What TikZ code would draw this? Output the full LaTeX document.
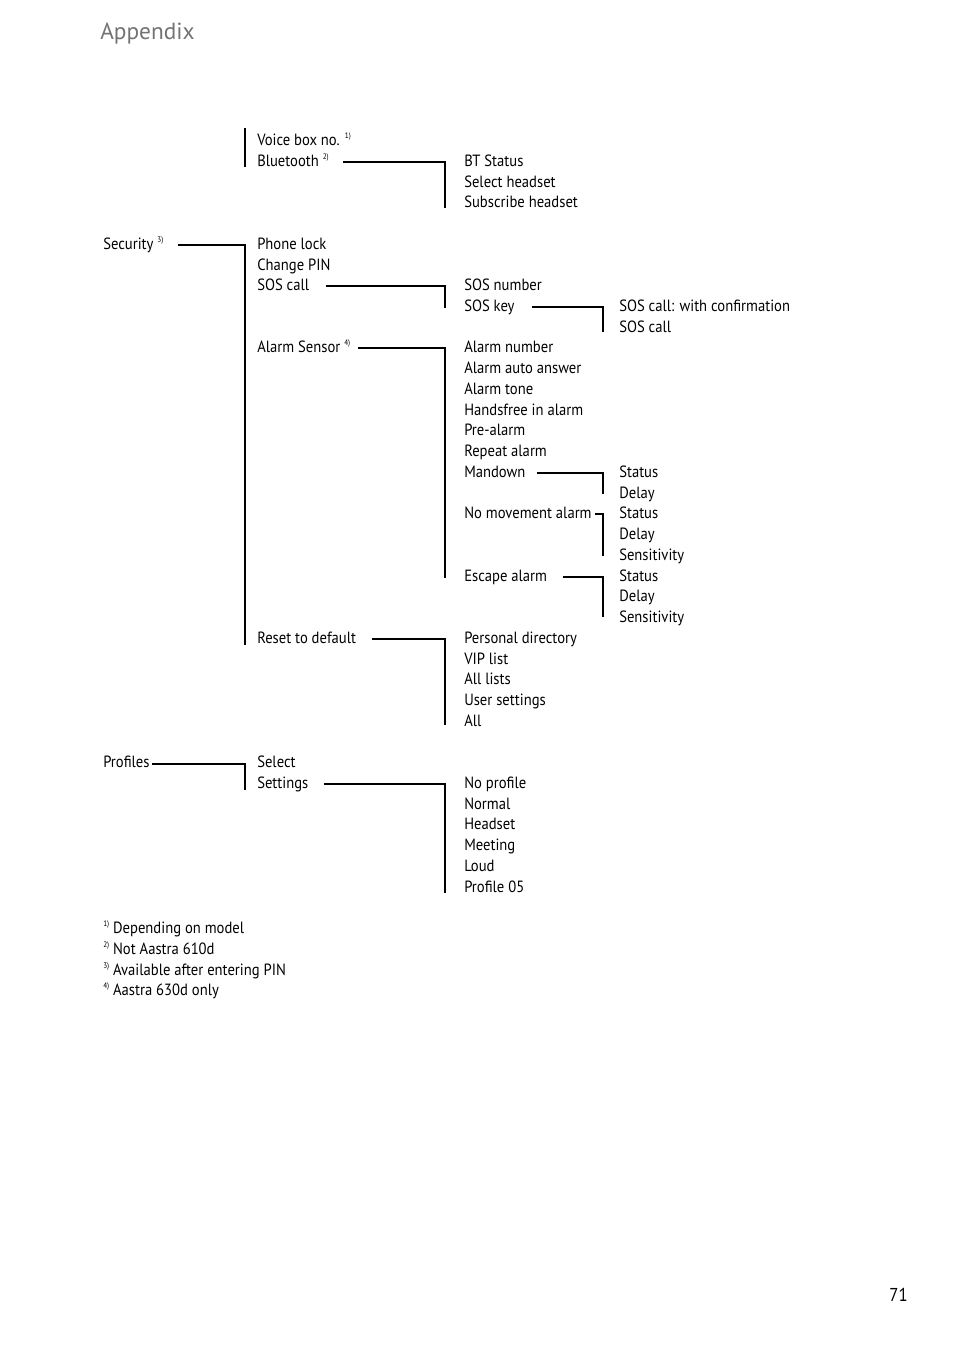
\documentclass[tikz,border=0pt]{standalone}
\usepackage{fontspec}
\setmainfont{PT Sans}[FakeStretch=0.9]
\newfontfamily\titlefont{PT Sans}
\usetikzlibrary{calc}
\newcommand{\menufont}{\fontsize{12.2}{14}\selectfont}
\newcommand{\fnm}[1]{\raisebox{0.8ex}{\fontsize{6}{6}\selectfont #1)}}

\begin{document}
\begin{tikzpicture}[x=0.75pt,y=-0.75pt,
  item/.style={anchor=base west,inner sep=0pt,font=\menufont},
  branch/.style={line width=1.4pt}]
  \useasboundingbox (0,0) rectangle (954,1354);
  % header and page number
  \node[anchor=base west,inner sep=0pt,font=\titlefont\fontsize{17.5}{20}\selectfont,black!55] (title) at (100,39) {Appendix};
  \node[anchor=base east,inner sep=0pt,font=\fontsize{14}{16}\selectfont] (page) at (908,1301) {71};
  % first level
  \node[item] (security) at (103,249) {Security \fnm{3}};
  \node[item] (profiles) at (103,767) {Profiles};
  % second level
  \node[item] (voicebox) at (257,145) {Voice box no. \fnm{1}};
  \node[item] (bluetooth) at (257,166) {Bluetooth \fnm{2}};
  \node[item] (phonelock) at (257,249) {Phone lock};
  \node[item] (changepin) at (257,270) {Change PIN};
  \node[item] (soscall) at (257,290) {SOS call};
  \node[item] (alarmsensor) at (257,352) {Alarm Sensor \fnm{4}};
  \node[item] (reset) at (257,643) {Reset to default};
  \node[item] (select) at (257,767) {Select};
  \node[item] (settings) at (257,788) {Settings};
  % third level
  \node[item] (btstatus) at (464,166) {BT Status};
  \node[item] (selhead) at (464,187) {Select headset};
  \node[item] (subhead) at (464,207) {Subscribe headset};
  \node[item] (sosnumber) at (464,290) {SOS number};
  \node[item] (soskey) at (464,311) {SOS key};
  \node[item] (alarmnumber) at (464,352) {Alarm number};
  \node[item] (autoanswer) at (464,373) {Alarm auto answer};
  \node[item] (alarmtone) at (464,394) {Alarm tone};
  \node[item] (handsfree) at (464,415) {Handsfree in alarm};
  \node[item] (prealarm) at (464,435) {Pre-alarm};
  \node[item] (repeat) at (464,456) {Repeat alarm};
  \node[item] (mandown) at (464,477) {Mandown};
  \node[item] (nomove) at (464,518) {No movement alarm};
  \node[item] (escape) at (464,581) {Escape alarm};
  \node[item] (personal) at (464,643) {Personal directory};
  \node[item] (vip) at (464,664) {VIP list};
  \node[item] (alllists) at (464,684) {All lists};
  \node[item] (usersettings) at (464,705) {User settings};
  \node[item] (all) at (464,726) {All};
  \node[item] (noprofile) at (464,788) {No profile};
  \node[item] (normal) at (464,809) {Normal};
  \node[item] (headset) at (464,829) {Headset};
  \node[item] (meeting) at (464,850) {Meeting};
  \node[item] (loud) at (464,871) {Loud};
  \node[item] (profile05) at (464,892) {Profile 05};
  % fourth level
  \node[item] (sosconfirm) at (619,311) {SOS call: with confirmation};
  \node[item] (sosplain) at (619,332) {SOS call};
  \node[item] (mdstatus) at (619,477) {Status};
  \node[item] (mddelay) at (619,498) {Delay};
  \node[item] (nmstatus) at (619,518) {Status};
  \node[item] (nmdelay) at (619,539) {Delay};
  \node[item] (nmsens) at (619,560) {Sensitivity};
  \node[item] (esstatus) at (619,581) {Status};
  \node[item] (esdelay) at (619,601) {Delay};
  \node[item] (essens) at (619,622) {Sensitivity};
  % footnotes
  \node[item] (fn1) at (103,933) {\fnm{1} Depending on model};
  \node[item] (fn2) at (103,954) {\fnm{2} Not Aastra 610d};
  \node[item] (fn3) at (103,975) {\fnm{3} Available after entering PIN};
  \node[item] (fn4) at (103,995) {\fnm{4} Aastra 630d only};
  % connectors
  \coordinate (cont) at (245,128);
  \draw[branch] (cont) -- ($(bluetooth.base west)+(-12,1)$);
  \draw[branch] ($(bluetooth.base east)+(14,-4)$) -| ($(subhead.base west)+(-19,1)$);
  \draw[branch] ($(security.base east)+(14,-4)$) -| ($(reset.base west)+(-12,2)$);
  \draw[branch] ($(soscall.base east)+(17,-4)$) -| ($(soskey.base west)+(-19,-3)$);
  \draw[branch] ($(soskey.base east)+(17,-4)$) -| ($(sosplain.base west)+(-16,0)$);
  \draw[branch] ($(alarmsensor.base east)+(8,-4)$) -| ($(escape.base west)+(-19,-3)$);
  \draw[branch] ($(mandown.base east)+(11,-4)$) -| ($(mddelay.base west)+(-16,-4)$);
  \draw[branch] ($(nomove.base east)+(3,-4)$) -| ($(nmsens.base west)+(-16,-4)$);
  \draw[branch] ($(escape.base east)+(16,-4)$) -| ($(essens.base west)+(-16,-5)$);
  \draw[branch] ($(reset.base east)+(16,-4)$) -| ($(all.base west)+(-19,-1)$);
  \draw[branch] ($(profiles.base east)+(2,-3)$) -| ($(settings.base west)+(-12,2)$);
  \draw[branch] ($(settings.base east)+(15,-4)$) -| ($(profile05.base west)+(-19,1)$);
\end{tikzpicture}
\end{document}
